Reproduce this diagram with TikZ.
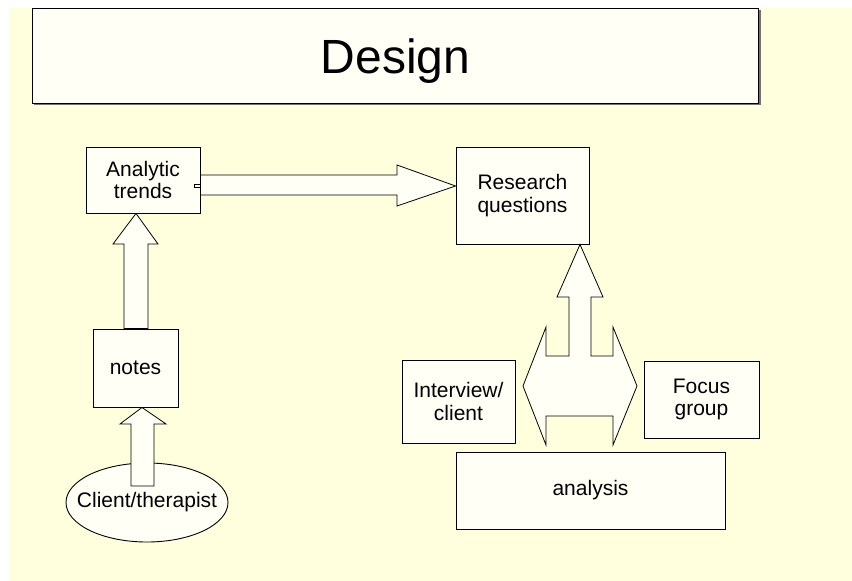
\documentclass[tikz,border=0pt]{standalone}
\usepackage{fontspec}
\setmainfont{Liberation Sans}
\usetikzlibrary{shapes.geometric}
\definecolor{bgyellow}{HTML}{FFFFDD}
\definecolor{boxfill}{HTML}{FFFFF6}
\begin{document}
\begin{tikzpicture}[x=1pt,y=-1pt,
  box/.style={draw=black,line width=0.9pt,fill=boxfill,inner sep=0pt,align=center,
    font=\fontsize{21}{22.5}\selectfont},
  blockarrow/.style={draw=black,line width=0.8pt,fill=boxfill,line join=miter}]
\useasboundingbox (0,0) rectangle (852,581);
\fill[white] (0,0) rectangle (852,581);
\fill[bgyellow] (9,8) rectangle (853,582);
% title with shadow
\fill[black!55] (34,10) rectangle (760.5,105);
\node[box,minimum width=726pt,minimum height=95pt,font=\fontsize{48}{52}\selectfont,
  text height=35pt,text depth=0pt] (design) at (395.5,55.5) {Design};
% boxes
\node[box,minimum width=114pt,minimum height=66pt] (at) at (143,180) {Analytic\\trends};
\node[box,minimum width=133pt,minimum height=97pt] (rq) at (522.5,195.5) {Research\\questions};
\node[box,minimum width=85pt,minimum height=78pt] (notes) at (135.5,368) {notes};
\node[box,ellipse,minimum width=162pt,minimum height=79pt] (ct) at (147,502.5) {\makebox[0pt]{Client/therapist}};
\node[box,minimum width=113pt,minimum height=83pt] (iv) at (458.5,401.5) {Interview/\\client};
\node[box,minimum width=115pt,minimum height=77pt] (fg) at (701.5,399.5) {Focus\\group};
\node[box,minimum width=269pt,minimum height=77pt] (an) at (590.5,490.5) {analysis};
% arrow: analytic trends -> research questions
\draw[blockarrow] (at.east |- 0,175) -- (397,175) -- (397,165) -- (rq.west |- 0,186)
  -- (397,206) -- (397,195) -- (at.east |- 0,195) -- cycle;
\draw[blockarrow,line width=0.6pt] (194,184) rectangle (at.east |- 0,187.5);
% arrow: notes -> analytic trends
\draw[blockarrow] (124,0 |- notes.north) -- (124,244) -- (113,244) -- (136,0 |- at.south)
  -- (158,244) -- (148,244) -- (148,0 |- notes.north) -- cycle;
% arrow: client/therapist -> notes
\draw[blockarrow] (131,486) -- (131,424) -- (120,424) -- (142,0 |- notes.south)
  -- (166,424) -- (154,424) -- (154,486) -- cycle;
% three-way arrow up to research questions
\draw[blockarrow] (580,0 |- rq.south) -- (603,297) -- (591,297) -- (591,356) -- (613,356)
  -- (613,327) -- (637,386) -- (613,445) -- (613,416) -- (546,416) -- (546,445)
  -- (523,386) -- (546,327) -- (546,356) -- (569,356) -- (569,297) -- (557,297) -- cycle;
\end{tikzpicture}
\end{document}
